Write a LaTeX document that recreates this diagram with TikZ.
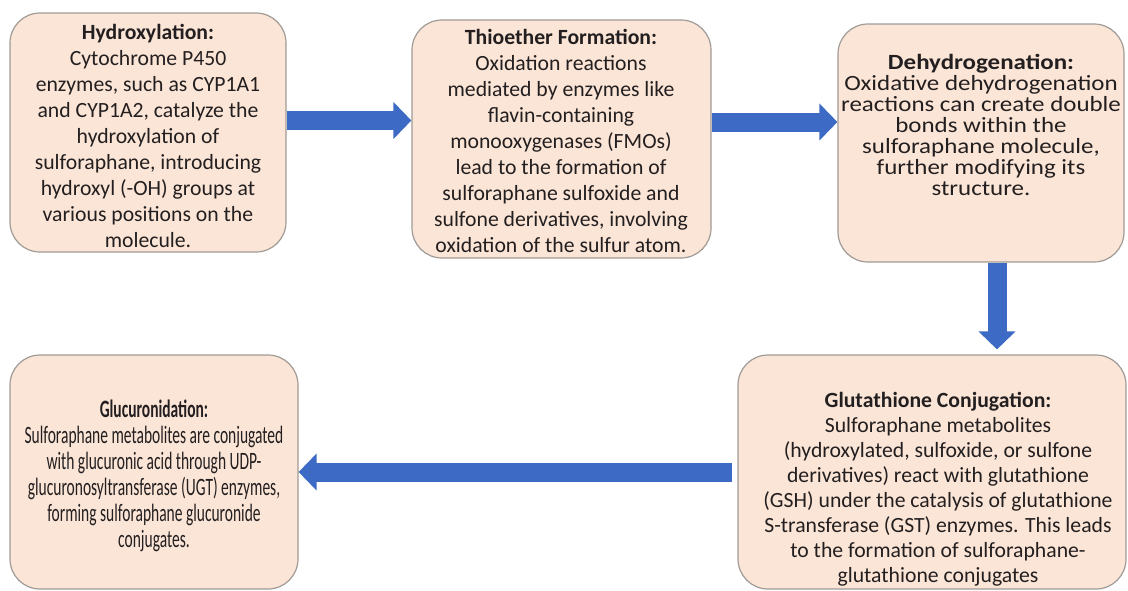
\documentclass[tikz,border=0pt]{standalone}
\usepackage{fontspec}
\setmainfont{Carlito}
\newfontfamily\faceC{Carlito}[FakeStretch=1.15]
\newfontfamily\faceE{Carlito}[FakeStretch=0.62]
\usetikzlibrary{arrows.meta,positioning}
\definecolor{peach}{RGB}{251,229,214}
\definecolor{rim}{RGB}{160,155,150}
\definecolor{flowblue}{RGB}{61,106,196}
\definecolor{ink}{RGB}{35,31,32}
\tikzset{
  stage/.style={draw=rim, fill=peach, rounded corners=15pt, line width=0.6pt, inner sep=0pt},
  txt/.style={align=center, text=ink, inner sep=0pt, font=\fontsize{10.85}{13}\selectfont},
  flow/.style={draw=flowblue, line width=9.5pt, -{Triangle[width=18pt,length=9pt]}},
}

\begin{document}
\begin{tikzpicture}[x=0.5pt, y=-0.5pt]
  \useasboundingbox (0,0) rectangle (1128,590);

  % the five stages
  \node[stage, minimum width=138pt, minimum height=119.5pt] (b1) at (148,132.5) {};
  \node[stage, minimum width=149.5pt, minimum height=119pt] (b2) at (561.5,139) {};
  \node[stage, minimum width=143pt, minimum height=119pt] (b3) at (981,143) {};
  \node[stage, minimum width=194pt, minimum height=117pt] (b4) at (932,472) {};
  \node[stage, minimum width=144pt, minimum height=117pt] (b5) at (154,472) {};

  % their texts
  \node[txt] (t1) at (148,136) {\textbf{Hydroxylation:}\\Cytochrome P450\\enzymes, such as CYP1A1\\and CYP1A2, catalyze the\\hydroxylation of\\sulforaphane, introducing\\hydroxyl (-OH) groups at\\various positions on the\\molecule.};
  \node[txt] (t2) at (561,141) {\textbf{Thioether Formation:}\\Oxidation reactions\\mediated by enzymes like\\flavin-containing\\monooxygenases (FMOs)\\lead to the formation of\\sulforaphane sulfoxide and\\sulfone derivatives, involving\\oxidation of the sulfur atom.};
  \node[txt, font=\faceC\fontsize{10.85}{10.5}\selectfont] (t3) at (981,125) {\textbf{Dehydrogenation:}\\Oxidative dehydrogenation\\reactions can create double\\bonds within the\\sulforaphane molecule,\\further modifying its\\structure.};
  \node[txt, font=\fontsize{10.85}{12.5}\selectfont] (t4) at (938,489) {\textbf{Glutathione Conjugation:}\\Sulforaphane metabolites\\(hydroxylated, sulfoxide, or sulfone\\derivatives) react with glutathione\\(GSH) under the catalysis of glutathione\\S-transferase (GST) enzymes. This leads\\to the formation of sulforaphane-\\glutathione conjugates};
  \node[txt, font=\faceE\fontsize{12.5}{13}\selectfont] (t5) at (154,476) {\textbf{Glucuronidation:}\\Sulforaphane metabolites are conjugated\\with glucuronic acid through UDP-\\glucuronosyltransferase (UGT) enzymes,\\forming sulforaphane glucuronide\\conjugates.};

  % block arrows
  \draw[flow] ([yshift=6pt]b1.east) -- ([yshift=6pt]b1.east -| b2.west);
  \draw[flow] ([yshift=8.5pt]b2.east) -- ([yshift=8.5pt]b2.east -| b3.west);
  \draw[flow, shorten >=2.5pt] ([xshift=8pt]b3.south) -- ([xshift=8pt]b3.south |- b4.north);
  \draw[flow, shorten <=2.5pt] (b4.west) -- (b4.west -| b5.east);
\end{tikzpicture}
\end{document}
